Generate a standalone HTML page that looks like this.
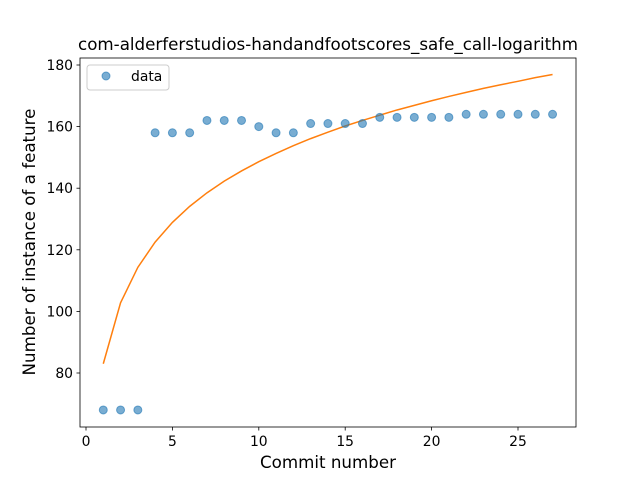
<!DOCTYPE html>
<html><head><meta charset="utf-8"><style>body{margin:0;background:#fff}svg{display:block;font-family:"DejaVu Sans","Liberation Sans",sans-serif}</style></head>
<body>
<svg id="c" width="640" height="480"></svg>
<script>
const xs=[1,2,3,4,5,6,7,8,9,10,11,12,13,14,15,16,17,18,19,20,21,22,23,24,25,26,27];
const dataVals=[68,68,68,158,158,158,162,162,162,160,158,158,161,161,161,161,163,163,163,163,163,164,164,164,164,164,164];
const fitVals=[83,102.8,114.3,122.5,128.9,134.1,138.5,142.3,145.6,148.6,151.3,153.8,156.1,158.2,160.2,162.0,163.7,165.4,166.9,168.4,169.8,171.1,172.4,173.6,174.7,175.9,176.9];
const xTicks=[0,5,10,15,20,25];
const yTicks=[80,100,120,140,160,180];
const NS="http://www.w3.org/2000/svg";
const svg=document.getElementById('c');
const L=80,R=576,T=58,B=427;
const X=v=>86+(v-0)*(518-86)/25;
const Y=v=>373-(v-80)*(373-65)/100;
function mk(t,a,p){const e=document.createElementNS(NS,t);for(const k in a)e.setAttribute(k,a[k]);(p||svg).appendChild(e);return e;}
let e;
e=mk('rect',{x:L,y:T,width:R-L,height:B-T,fill:'none',stroke:'#000','stroke-width':0.8});


xTicks.forEach(t=>{mk('line',{x1:X(t),x2:X(t),y1:B,y2:B+3.5,stroke:'#000','stroke-width':0.8});
e=mk('text',{x:X(t),y:B+19,'text-anchor':'middle','font-size':13.9});e.textContent=t;

});
yTicks.forEach(t=>{mk('line',{x1:L-3.5,x2:L,y1:Y(t),y2:Y(t),stroke:'#000','stroke-width':0.8});
e=mk('text',{x:L-7,y:Y(t)+5,'text-anchor':'end','font-size':13.9});e.textContent=t;

});
e=mk('polyline',{points:xs.map((x,i)=>X(x)+','+Y(fitVals[i])).join(' '),fill:'none',stroke:'#ff7f0e','stroke-width':1.5});


xs.forEach((x,i)=>{e=mk('circle',{cx:X(x),cy:Y(dataVals[i]),r:4,fill:'#1f77b4','fill-opacity':0.6,stroke:'#1f77b4','stroke-opacity':0.6});

});
e=mk('text',{x:328,y:50,'text-anchor':'middle','font-size':16.7});e.textContent='com-alderferstudios-handandfootscores_safe_call-logarithm';


e=mk('text',{x:328,y:468,'text-anchor':'middle','font-size':16.7});e.textContent='Commit number';


e=mk('text',{x:35,y:242,'text-anchor':'middle','font-size':16.7,transform:'rotate(-90 35 242)'});e.textContent='Number of instance of a feature';


const g=mk('g',{});


mk('rect',{x:87,y:65,width:82,height:25,rx:3,fill:'#fff',stroke:'#ccc'},g);
mk('circle',{cx:106,cy:76,r:4,fill:'#1f77b4','fill-opacity':0.6,stroke:'#1f77b4','stroke-opacity':0.6},g);
e=mk('text',{x:131,y:81,'font-size':13.9},g);e.textContent='data';


</script>
</body></html>
